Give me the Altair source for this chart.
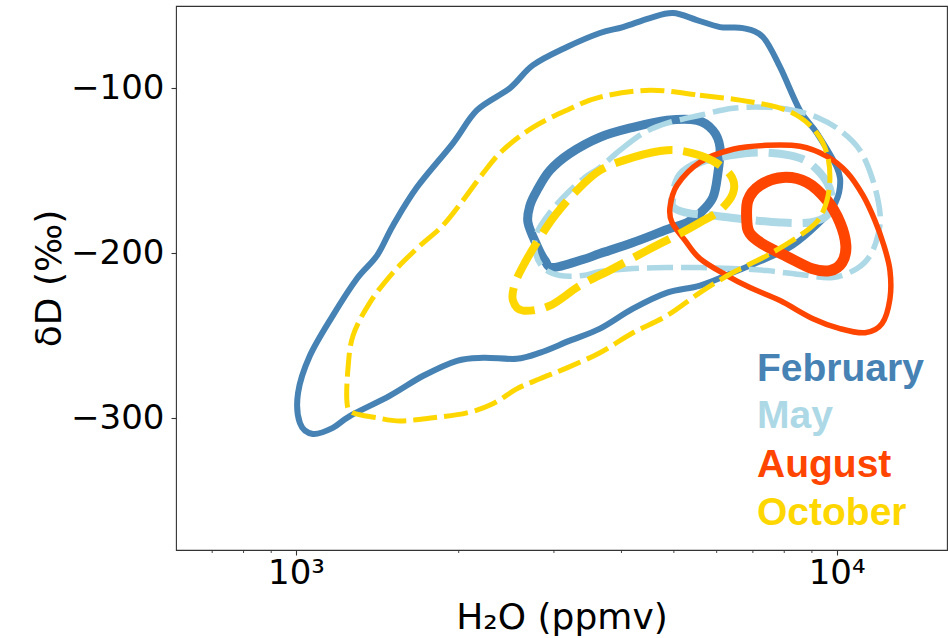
import altair as alt
import pandas as pd

# ---------------- data (H2O in ppmv, deltaD in permil) ----------------
feb_outer_x = [4980, 5515, 6084, 6710, 7305, 7860, 8550, 9200, 10010, 10140, 9840, 9200, 8300, 7430,
               6430, 5590, 4860, 4200, 3650, 3210, 2830, 2560, 2220, 1985, 1720, 1490, 1260, 1170,
               1075, 1017, 1009, 1061, 1170, 1297, 1412, 1512, 1674, 1951, 2162, 2488, 2744, 3171,
               3650, 4025, 4515]
feb_outer_y = [-54.3, -58.5, -62.8, -63.4, -68.8, -87.1, -113.2, -127.2, -147.9, -160.0, -172.2,
               -183.1, -195.3, -203.2, -211.7, -219.6, -223.9, -233.6, -245.7, -253.0, -260.3,
               -264.0, -263.4, -265.2, -274.3, -286.5, -298.6, -305.9, -309.6, -302.9, -284.7,
               -262.2, -237.8, -215.3, -201.4, -183.1, -160.0, -133.3, -113.2, -99.8, -85.9,
               -74.9, -66.4, -62.8, -57.3]

feb_inner_x = [3650, 4201, 4856, 5515, 5905, 6084, 6030, 5905, 5587, 5290, 4856, 4201, 3650, 3395,
               2990, 2887, 2791, 2686, 2709, 2791, 2950, 3212]
feb_inner_y = [-129.6, -123.6, -119.3, -119.3, -125.4, -135.7, -151.5, -166.1, -175.8, -181.3,
               -185.6, -193.5, -200.2, -203.8, -208.7, -204.4, -195.3, -181.3, -171.0, -161.9,
               -149.7, -139.4]

may_outer_x = [3650, 3974, 4383, 4856, 5587, 6430, 7431, 8302, 9196, 10140, 11040, 11670, 12030,
               11920, 11530, 10900, 9840, 8553, 7431, 6430, 5587, 4856, 4201, 3650, 3395, 3078,
               2863, 2767, 2791, 2950, 3171, 3423]
may_outer_y = [-147.9, -137.5, -127.2, -121.1, -116.3, -112.0, -111.4, -113.2, -117.5, -125.4,
               -137.5, -155.8, -175.8, -189.2, -201.4, -209.3, -214.7, -212.9, -210.5, -209.3,
               -208.7, -208.7, -209.3, -211.1, -213.5, -213.5, -208.7, -198.3, -187.4, -175.2,
               -163.7, -154.0]

may_inner_x = [4960, 5130, 5587, 6350, 7215, 8200, 8925, 9600, 9800, 9596, 8925, 7857, 6825, 5905,
               5355, 5020]
may_inner_y = [-167.9, -152.7, -144.8, -140.6, -138.8, -140.6, -145.4, -157.0, -167.9, -177.1,
               -181.3, -181.3, -179.5, -177.1, -175.8, -172.8]

aug_outer_x = [4918, 5067, 5587, 6430, 7431, 8553, 9596, 10450, 11190, 11770, 12230, 12550, 12550,
               12130, 11290, 10140, 9040, 7857, 6913, 6268, 5587, 5243, 4960]
aug_outer_y = [-172.2, -158.8, -144.8, -136.9, -134.5, -135.1, -141.2, -150.9, -164.9, -180.1,
               -195.3, -210.5, -227.5, -242.7, -248.2, -245.7, -239.7, -228.7, -220.8, -213.5,
               -203.2, -192.2, -181.3]

aug_inner_x = [6824, 6855, 7215, 7955, 8810, 9596, 10140, 10400, 10230, 9720, 9003, 8095, 7275, 6913]
aug_inner_y = [-181.3, -167.9, -158.8, -154.0, -157.0, -167.9, -181.3, -195.3, -205.6, -210.5,
               -209.3, -202.0, -194.1, -188.0]

oct_outer_x = [4515, 5587, 6624, 7757, 8553, 9196, 9596, 9719, 9596, 9235, 8553, 7431, 6430, 5587,
               4856, 4201, 3650, 3171, 2827, 2563, 2313, 2072, 1792, 1557, 1412, 1275, 1243, 1248,
               1275, 1370, 1512, 1674, 1870, 2037, 2218, 2414, 2744, 3171, 3650]
oct_outer_y = [-101.1, -104.1, -107.1, -111.4, -117.5, -127.2, -139.4, -154.0, -167.9, -180.1,
               -189.2, -201.4, -211.7, -223.9, -237.8, -248.2, -260.3, -269.5, -276.1, -282.2,
               -291.3, -296.8, -299.8, -301.7, -299.8, -296.8, -290.7, -270.1, -250.0, -229.9,
               -211.7, -197.1, -183.1, -167.9, -151.5, -137.5, -123.6, -113.2, -105.3]

oct_inner_x = [3650, 4201, 4856, 5424, 6006, 6404, 6430, 6084, 5587, 5132, 4459, 3858, 3352, 2950,
               2630, 2520, 2541, 2652, 2827, 3013, 3281]
oct_inner_y = [-149.7, -141.8, -137.5, -139.4, -145.4, -154.0, -163.7, -174.0, -181.3, -188.0,
               -198.3, -209.3, -219.6, -231.8, -234.8, -228.7, -218.4, -205.6, -190.4, -177.1,
               -163.1]

months = ["February", "May", "August", "October"]
colors = ["#4682b4", "#add8e6", "#ff4500", "#ffd700"]

x_major = [1000, 10000]
x_minor = [700, 800, 900, 2000, 3000, 4000, 5000, 6000, 7000, 8000, 9000]
y_ticks = [-300, -200, -100]

# ---------------- chart ----------------
W, H = 771, 544

x_scale = alt.Scale(type="log", domain=[600, 16000], nice=False)
y_scale = alt.Scale(domain=[-380, -50], nice=False, zero=False)

x_axis = alt.Axis(
    values=x_major,
    labelExpr="datum.value == 1000 ? '10³' : '10⁴'",
    title="H₂O (ppmv)",
    grid=False, domain=False,
    tickSize=5, tickWidth=1.1, tickColor="#333",
    labelFont="DejaVu Sans", labelFontSize=34, labelColor="black",
    labelPadding=1, labelBaseline="top",
    titleFont="DejaVu Sans", titleFontSize=36, titleFontWeight="normal", titleColor="black",
    titleX=W / 2, titleY=78, titleAlign="center", titleBaseline="alphabetic",
)
y_axis = alt.Axis(
    values=y_ticks,
    labelExpr="replace(format(datum.value, 'd'), '-', '−')",
    title="δD (‰)",
    grid=False, domain=False,
    tickSize=5, tickWidth=1.1, tickColor="#333",
    labelFont="DejaVu Sans", labelFontSize=34, labelColor="black", labelPadding=7,
    titleFont="DejaVu Sans", titleFontSize=36, titleFontWeight="normal", titleColor="black",
    titleX=-116, titleY=H / 2, titleAngle=270, titleAlign="center", titleBaseline="alphabetic",
)


def contour(xs, ys, color, width, dash=None):
    df = pd.DataFrame({"h2o": xs, "dD": ys, "i": list(range(len(xs)))})
    kw = dict(color=color, strokeWidth=width, interpolate="cardinal-closed",
              strokeJoin="round", clip=True)
    if dash:
        kw["strokeDash"] = dash
        kw["strokeCap"] = "butt"
    return alt.Chart(df).mark_line(**kw).encode(
        x=alt.X("h2o:Q", scale=x_scale, axis=x_axis),
        y=alt.Y("dD:Q", scale=y_scale, axis=y_axis),
        order=alt.Order("i:Q"),
    )


layers = [
    contour(feb_outer_x, feb_outer_y, colors[0], 6),
    contour(feb_inner_x, feb_inner_y, colors[0], 9),
    contour(may_outer_x, may_outer_y, colors[1], 5.5, [26, 8]),
    contour(may_inner_x, may_inner_y, colors[1], 8, [36, 11]),
    contour(aug_outer_x, aug_outer_y, colors[2], 5.5),
    contour(aug_inner_x, aug_inner_y, colors[2], 11),
    contour(oct_outer_x, oct_outer_y, colors[3], 5, [24, 7]),
    contour(oct_inner_x, oct_inner_y, colors[3], 8, [40, 11]),
]

minor_df = pd.DataFrame({"h2o": x_minor})
layers.append(
    alt.Chart(minor_df).mark_rule(color="#333", strokeWidth=0.9).encode(
        x=alt.X("h2o:Q", scale=x_scale, axis=x_axis),
        y=alt.value(H),
        y2=alt.value(H + 3),
    )
)

label_y = [375, 422, 471, 519]
for m, c, yy in zip(months, colors, label_y):
    layers.append(
        alt.Chart(pd.DataFrame({"t": [m]})).mark_text(
            font="Liberation Sans", fontSize=39, fontWeight="bold", color=c,
            align="left", baseline="alphabetic",
        ).encode(text="t:N", x=alt.value(581), y=alt.value(yy))
    )

chart = alt.layer(*layers).properties(
    width=W, height=H,
    autosize=alt.AutoSizeParams(type="none"),
    padding={"left": 176, "top": 6, "right": 1, "bottom": 88},
    background="white",
).configure_view(stroke="#333", strokeWidth=1.1)

chart.save("out.html", embed_options={"renderer": "svg", "actions": False})
